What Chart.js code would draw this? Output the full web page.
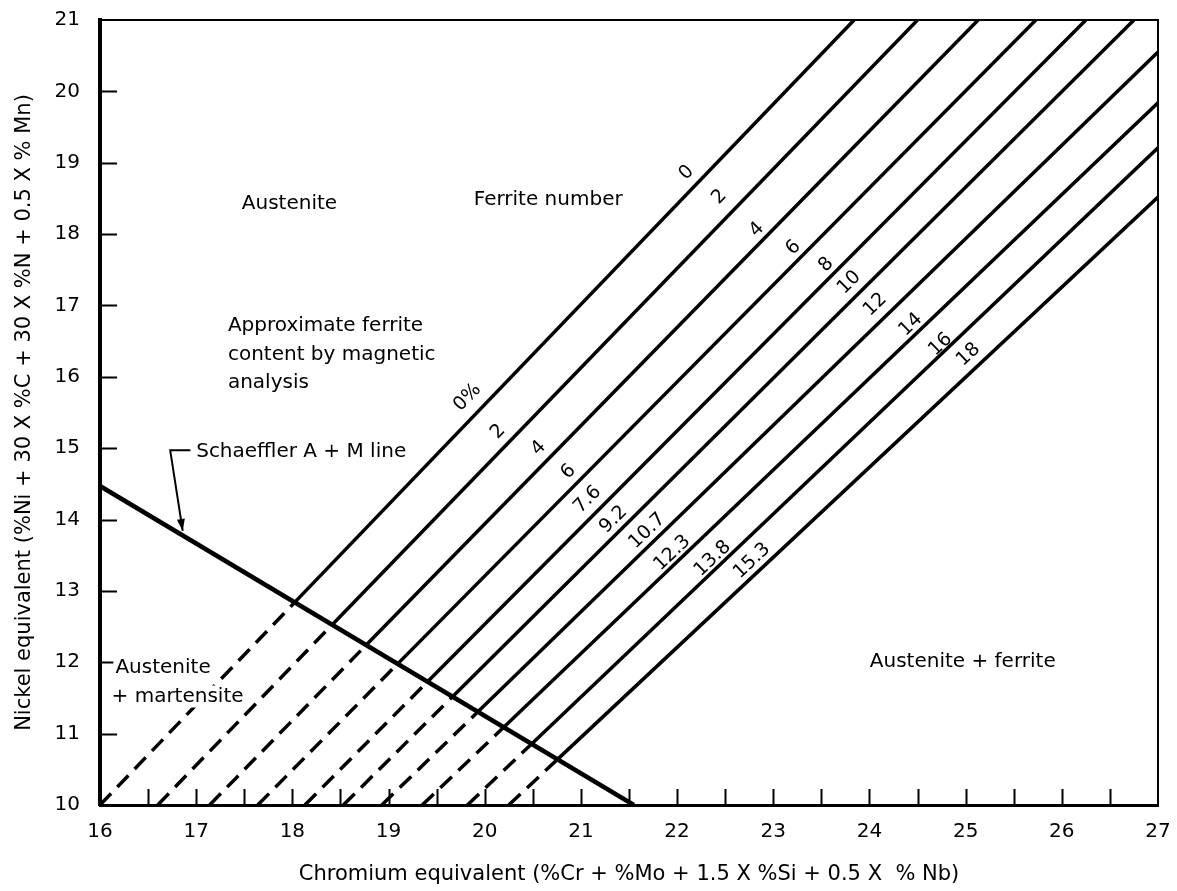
<!DOCTYPE html>
<html>
<head>
<meta charset="utf-8">
<title>Ferrite number diagram</title>
<script src="https://cdn.jsdelivr.net/npm/chart.js@4/dist/chart.umd.min.js"></script>
<style>
  html, body { margin: 0; padding: 0; background: #fff; }
  canvas { display: block; }
</style>
</head>
<body>
<canvas id="diagram" width="1177" height="891"></canvas>
<script>
// axis ticks
const xTickLabels = [16, 17, 18, 19, 20, 21, 22, 23, 24, 25, 26, 27]
const yTickLabels = [10, 11, 12, 13, 14, 15, 16, 17, 18, 19, 20, 21]
const xInnerTicks = [16.5, 17, 17.5, 18, 18.5, 19, 19.5, 20, 20.5, 21, 21.5, 22, 22.5, 23, 23.5, 24, 24.5, 25, 25.5, 26, 26.5]
const yInnerTicks = [11, 12, 13, 14, 15, 16, 17, 18, 19, 20]

// iso-ferrite lines
const ferriteNumbers = ['0', '2', '4', '6', '8', '10', '12', '14', '16', '18']
const ferritePercent = ['0%', '2', '4', '6', '7.6', '9.2', '10.7', '12.3', '13.8', '15.3']
const lineStartX = [16.0, 16.6, 17.14, 17.64, 18.13, 18.53, 18.93, 19.35, 19.82, 20.25] // at Ni eq = 10
const lineEndX = [23.84, 24.50, 25.13, 25.73, 26.25, 26.75, 27, 27, 27, 27]
const lineEndY = [21, 21, 21, 21, 21, 21, 20.55, 19.84, 19.21, 18.52]

// Schaeffler A + M line
const schaefflerX = [16, 21.55]
const schaefflerY = [14.47, 10]

// where the labels sit (data units)
const percentLabelPos = [[19.82, 15.71], [20.14, 15.23], [20.56, 15.0], [20.87, 14.67], [21.07, 14.28], [21.34, 14.0], [21.69, 13.84], [21.95, 13.53], [22.37, 13.45], [22.78, 13.42]]
const fnLabelPos = [[22.10, 18.86], [22.44, 18.52], [22.83, 18.06], [23.21, 17.81], [23.55, 17.57], [23.79, 17.32], [24.06, 17.01], [24.43, 16.73], [24.74, 16.45], [25.03, 16.31]]
const regionLabels = [
    { text: 'Austenite', x: 17.97, y: 18.42, align: 'center' },
    { text: 'Ferrite number', x: 20.66, y: 18.48, align: 'center' },
    { text: 'Approximate ferrite', x: 17.33, y: 16.71, align: 'left' },
    { text: 'content by magnetic', x: 17.33, y: 16.31, align: 'left' },
    { text: 'analysis', x: 17.33, y: 15.92, align: 'left' },
    { text: 'Schaeffler A + M line', x: 17.0, y: 14.95, align: 'left' },
    { text: 'Austenite', x: 16.16, y: 11.92, align: 'left' },
    { text: '+ martensite', x: 16.12, y: 11.52, align: 'left' },
    { text: 'Austenite + ferrite', x: 24.97, y: 12.0, align: 'center' },
]
const arrowPath = [[16.94, 14.97], [16.73, 14.97], [16.86, 13.84]]

const FONT = '"DejaVu Sans", "Liberation Sans", sans-serif'

function crossing(x0, y0, x1, y1) {
    // where a ferrite line meets the Schaeffler line
    const s1 = (y1 - y0) / (x1 - x0)
    const s2 = (schaefflerY[1] - schaefflerY[0]) / (schaefflerX[1] - schaefflerX[0])
    const x = (schaefflerY[0] - y0 + s1 * x0 - s2 * schaefflerX[0]) / (s1 - s2)
    return { x: x, y: y0 + s1 * (x - x0) }
}

const ferriteSets = ferriteNumbers.map((fn, i) => {
    const p0 = { x: lineStartX[i], y: 10 }
    const p2 = { x: lineEndX[i], y: lineEndY[i] }
    return {
        label: 'FN ' + fn,
        data: [p0, crossing(p0.x, p0.y, p2.x, p2.y), p2],
        showLine: true,
        borderColor: '#000',
        borderWidth: 3.5,
        pointRadius: 0,
        segment: {
            borderDash: ctx => ctx.p0DataIndex === 0 ? [16, 9] : undefined
        }
    }
})

const schaefflerSet = {
    label: 'Schaeffler A + M line',
    data: schaefflerX.map((x, i) => ({ x: x, y: schaefflerY[i] })),
    showLine: true,
    borderColor: '#000',
    borderWidth: 4.5,
    pointRadius: 0
}

function lineAngle(chart, i) {
    const { x, y } = chart.scales
    const dx = x.getPixelForValue(lineEndX[i]) - x.getPixelForValue(lineStartX[i])
    const dy = y.getPixelForValue(lineEndY[i]) - y.getPixelForValue(10)
    return Math.atan2(dy, dx)
}

const decorations = {
    id: 'decorations',
    afterDraw(chart) {
        const { ctx, chartArea: a, scales: { x, y } } = chart
        ctx.save()
        ctx.strokeStyle = '#000'
        ctx.fillStyle = '#000'

        // top and right frame
        ctx.lineWidth = 2
        ctx.beginPath()
        ctx.moveTo(a.left, a.top)
        ctx.lineTo(a.right, a.top)
        ctx.lineTo(a.right, a.bottom)
        ctx.stroke()

        // inward tick marks
        ctx.lineWidth = 2
        ctx.beginPath()
        xInnerTicks.forEach(v => {
            const px = Math.round(x.getPixelForValue(v)) + 0.5
            ctx.moveTo(px, a.bottom)
            ctx.lineTo(px, a.bottom - 16)
        })
        yInnerTicks.forEach(v => {
            const py = Math.round(y.getPixelForValue(v)) + 0.5
            ctx.moveTo(a.left, py)
            ctx.lineTo(a.left + 17, py)
        })
        ctx.stroke()

        // region text, knocked out of the lines behind it
        ctx.font = '20px ' + FONT
        ctx.textBaseline = 'middle'
        regionLabels.forEach(l => {
            const px = x.getPixelForValue(l.x), py = y.getPixelForValue(l.y)
            const w = ctx.measureText(l.text).width
            const left = l.align === 'center' ? px - w / 2 : px
            ctx.fillStyle = '#fff'
            ctx.fillRect(left - 2, py - 11, w + 4, 22)
            ctx.fillStyle = '#000'
            ctx.textAlign = l.align
            ctx.fillText(l.text, px, py)
        })

        // labels along the lines
        ctx.font = '19px ' + FONT
        ctx.textAlign = 'center'
        const drawRotated = (text, pos, ang) => {
            ctx.save()
            ctx.translate(x.getPixelForValue(pos[0]), y.getPixelForValue(pos[1]))
            ctx.rotate(ang)
            ctx.fillText(text, 0, 0)
            ctx.restore()
        }
        ferritePercent.forEach((t, i) => drawRotated(t, percentLabelPos[i], lineAngle(chart, i)))
        ferriteNumbers.forEach((t, i) => drawRotated(t, fnLabelPos[i], lineAngle(chart, i)))

        // arrow to the Schaeffler line
        const pts = arrowPath.map(p => [x.getPixelForValue(p[0]), y.getPixelForValue(p[1])])
        ctx.lineWidth = 2
        ctx.beginPath()
        ctx.moveTo(pts[0][0], pts[0][1])
        pts.slice(1).forEach(p => ctx.lineTo(p[0], p[1]))
        ctx.stroke()
        const [bx, by] = pts[1], [tx, ty] = pts[2]
        const ang = Math.atan2(ty - by, tx - bx)
        ctx.beginPath()
        ctx.moveTo(tx, ty)
        ctx.lineTo(tx - 12 * Math.cos(ang) + 4 * Math.sin(ang), ty - 12 * Math.sin(ang) - 4 * Math.cos(ang))
        ctx.lineTo(tx - 12 * Math.cos(ang) - 4 * Math.sin(ang), ty - 12 * Math.sin(ang) + 4 * Math.cos(ang))
        ctx.closePath()
        ctx.fill()

        ctx.restore()
    }
}

new Chart(document.getElementById('diagram'), {
    type: 'scatter',
    data: { datasets: [...ferriteSets, schaefflerSet] },
    options: {
        responsive: false,
        animation: false,
        devicePixelRatio: 1,
        layout: { padding: { top: 20, right: 19, left: 0, bottom: 0 } },
        plugins: { legend: { display: false }, tooltip: { enabled: false } },
        scales: {
            x: {
                type: 'linear',
                min: 16,
                max: 27,
                afterFit: s => { s.height = 86; s.paddingLeft = 0; s.paddingRight = 0 },
                afterBuildTicks: s => { s.ticks = xTickLabels.map(v => ({ value: v })) },
                grid: { drawOnChartArea: false, drawTicks: false },
                border: { color: '#000', width: 3 },
                ticks: { color: '#000', font: { family: FONT, size: 20 }, padding: 15, maxRotation: 0 },
                title: {
                    display: true,
                    text: 'Chromium equivalent (%Cr + %Mo + 1.5 X %Si + 0.5 X  % Nb)',
                    color: '#000',
                    font: { family: FONT, size: 21 },
                    padding: { top: 4, bottom: 4 }
                }
            },
            y: {
                type: 'linear',
                min: 10,
                max: 21,
                afterFit: s => { s.width = 100; s.paddingTop = 0; s.paddingBottom = 0 },
                afterBuildTicks: s => { s.ticks = yTickLabels.map(v => ({ value: v })) },
                grid: { drawOnChartArea: false, drawTicks: false },
                border: { color: '#000', width: 4 },
                ticks: { color: '#000', font: { family: FONT, size: 20 }, padding: 20 },
                title: {
                    display: true,
                    text: 'Nickel equivalent (%Ni + 30 X %C + 30 X %N + 0.5 X % Mn)',
                    color: '#000',
                    font: { family: FONT, size: 21 },
                    padding: { top: 12, bottom: 4 }
                }
            }
        }
    },
    plugins: [decorations]
})
</script>
</body>
</html>
